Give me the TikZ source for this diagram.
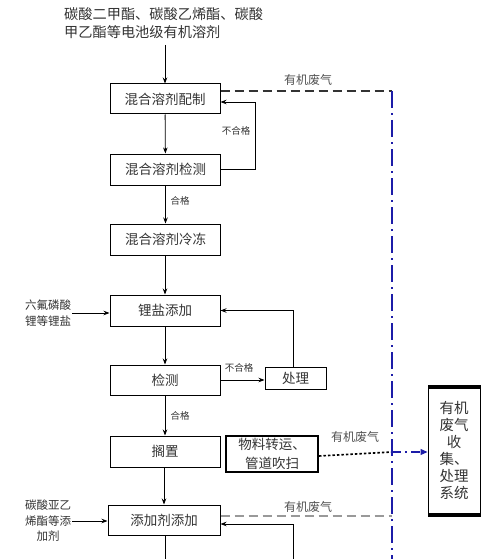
\documentclass[tikz,border=0pt]{standalone}
\usepackage{fontspec}
\setmainfont{Noto Sans CJK SC}
\usetikzlibrary{arrows.meta,calc}
\definecolor{txt}{HTML}{333333}
\definecolor{wblue}{HTML}{1C1CA8}
\tikzset{
  box/.style={draw=black, line width=1pt, fill=white, minimum width=110pt, minimum height=30pt, inner sep=0pt, font=\fontsize{13.5}{15}\selectfont, text=txt},
  lbl/.style={font=\fontsize{9.5}{11}\selectfont, text=txt, inner sep=0pt},
  gaslbl/.style={font=\fontsize{12}{13}\selectfont, text=txt!85, inner sep=0pt},
  inlbl/.style={font=\fontsize{11.5}{15.5}\selectfont, text=txt, align=center, inner sep=1pt},
  arr/.style={draw=black, line width=0.8pt, -{Stealth[length=6pt,width=4.5pt]}},
  ln/.style={draw=black, line width=0.8pt},
  bluedd/.style={draw=wblue, line width=1.6pt, dash pattern=on 17pt off 5pt on 2pt off 5pt},
}
\begin{document}
\begin{tikzpicture}[x=1pt,y=-1pt]
\useasboundingbox[fill=white] (0,0) rectangle (500,559);
% top input
\node[font=\fontsize{14.2}{18.5}\selectfont, text=txt, align=left, anchor=north west, inner sep=0pt] (top) at (64,7) {碳酸二甲酯、碳酸乙烯酯、碳酸\\甲乙酯等电池级有机溶剂};
% main boxes
\node[box] (b1) at (165,99) {混合溶剂配制};
\node[box, minimum height=31pt] (b2) at (165.5,169.5) {混合溶剂检测};
\node[box, minimum height=31pt] (b3) at (165.5,239.5) {混合溶剂冷冻};
\node[box, minimum height=31pt] (b4) at (165,310.5) {锂盐添加};
\node[box] (b5) at (165,380) {检测};
\node[box, minimum height=31pt] (b6) at (165,451.5) {搁置};
\node[box, minimum width=112pt] (b7) at (164,520) {添加剂添加};
\node[box, minimum width=61pt, minimum height=22pt] (cl) at (295.5,378) {处理};
\node[box, minimum width=92pt, minimum height=36pt, line width=2pt, align=center, font=\fontsize{13.5}{19}\selectfont] (wl) at (272,454) {物料转运、\\管道吹扫};
% system box
\node[draw=black, line width=1pt, fill=white, minimum width=52pt, minimum height=131pt, inner sep=0pt, align=center, font=\fontsize{14.5}{17}\selectfont, text=txt] (sys) at (454,450.5) {有机\\废气\\收\\集、\\处理\\系统};
\fill[black] (sys.north west) rectangle ($(sys.north east)+(0,4)$);
\fill[black] ($(sys.south west)+(0,-4)$) rectangle (sys.south east);
% inputs
\node[inlbl] (in1) at (48,313) {六氟磷酸\\锂等锂盐};
\node[inlbl] (in2) at (48,521) {碳酸亚乙\\烯酯等添\\加剂};
% coordinates
\coordinate (t0) at (165,45);
\coordinate (v1) at (392,91);
\coordinate (v2) at (392,452);
\coordinate (v3) at (392,516);
\coordinate (vb) at (392,559);
\coordinate (e1) at (165,559);
\coordinate (e2) at (293,559);
% main flow
\draw[arr] (t0) -- (b1.north);
\draw[arr] (b1) -- (b2);
\draw[arr] (b2) -- (b3);
\draw[arr] (b3.south -| b4.north) -- (b4.north);
\draw[arr] (b4) -- (b5);
\draw[arr] (b5) -- (b6);
\draw[arr] (b6.south -| b7.north) -- (b7.north);
\draw[ln] (b7.south -| e1) -- (e1);
% loops
\draw[arr] (b2.east) -- (255,169.5) |- ([yshift=-3pt]b1.east);
\draw[arr] (b5.east) -- (b5.east -| cl.west);
\draw[arr] (cl.north -| 293,0) |- (b4.east);
\draw[arr] (e2) |- ([yshift=-4pt]b7.east);
% inputs arrows
\draw[arr] (in1.east) -- (in1.east -| b4.west);
\draw[arr] (in2.east) -- (in2.east -| b7.west);
% waste gas lines
\draw[draw=txt, line width=1.2pt, dash pattern=on 9pt off 5pt] ([yshift=8pt]b1.east) -- (v1);
\draw[draw=gray!80, line width=1.1pt, dash pattern=on 9pt off 5pt] ([yshift=4pt]b7.east) -- (v3);
\draw[draw=black, line width=1.6pt, dash pattern=on 2.5pt off 2pt] ([yshift=-2pt]wl.east) -- (v2);
\draw[bluedd] (v1) -- (vb);
\draw[draw=wblue, line width=1.2pt, dash pattern=on 9pt off 4pt on 2pt off 4pt, -{Triangle[length=7pt,width=6pt]}] (v2) -- (v2 -| sys.west);
% labels
\node[gaslbl] (g1) at (308,80) {有机废气};
\node[gaslbl] (g2) at (355,437) {有机废气};
\node[gaslbl] (g3) at (308,507) {有机废气};
\node[lbl] (l1) at (236,131) {不合格};
\node[lbl] (l2) at (180,201) {合格};
\node[lbl] (l3) at (239,368) {不合格};
\node[lbl] (l4) at (180,416) {合格};
\end{tikzpicture}
\end{document}
